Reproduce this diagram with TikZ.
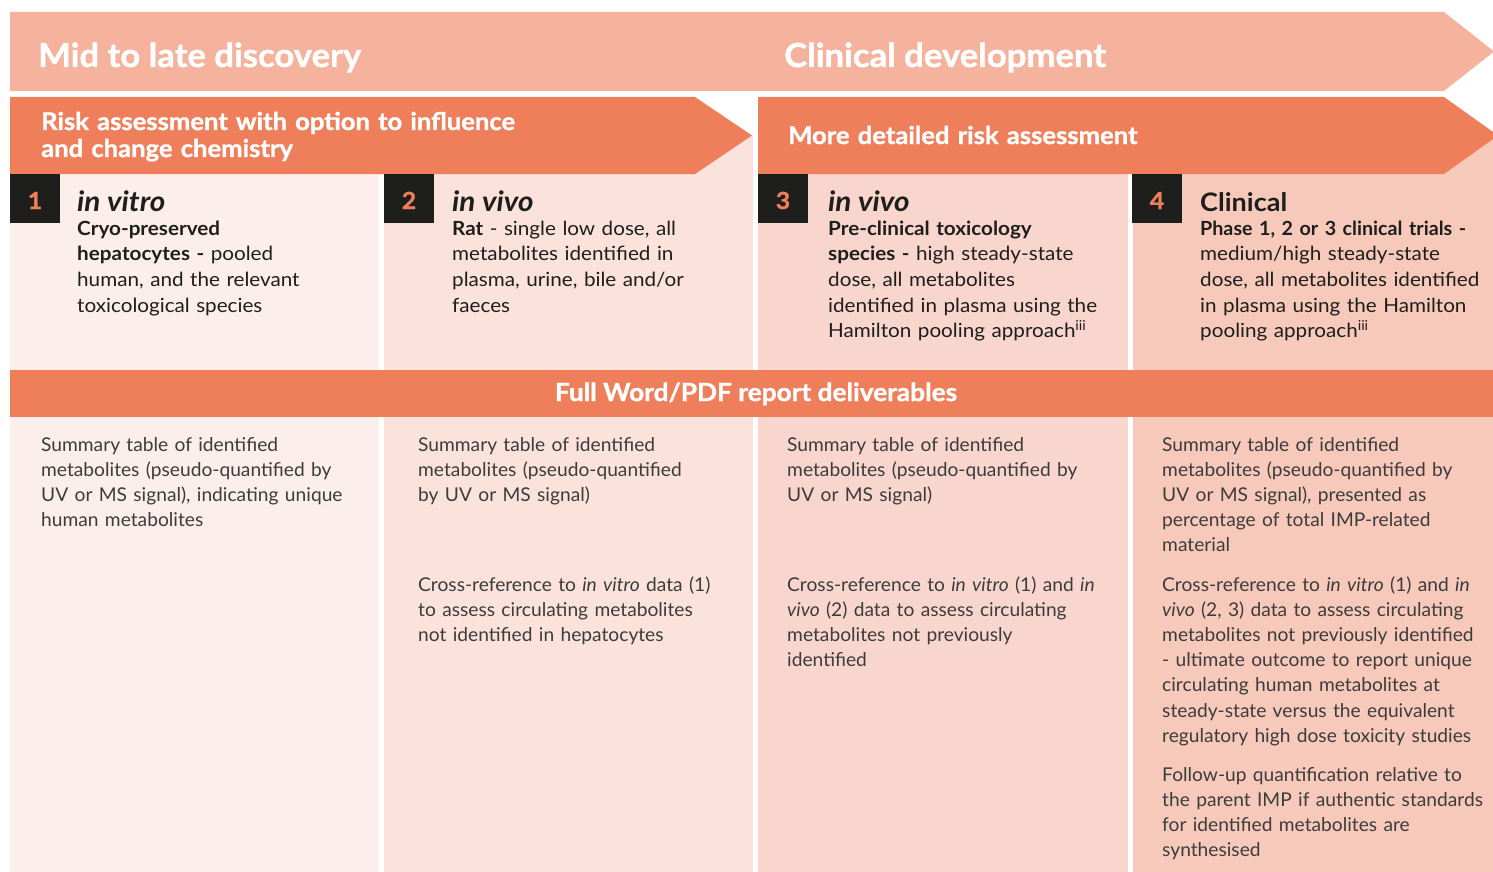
\documentclass[tikz,border=0pt]{standalone}
\usepackage{fontspec}
\setmainfont{Lato}
% heavy headings, slightly widened text faces
\newfontfamily\headfont{Lato}[FakeStretch=1.05, BoldFeatures={FakeBold=1.2}]
\newfontfamily\topfont{Lato}[FakeStretch=1.06]
\newfontfamily\lowfont{Lato}[FakeStretch=1.01]
\definecolor{banner}{HTML}{F5B29C}
\definecolor{accent}{HTML}{EF7F5A}
\definecolor{colA}{HTML}{FCEFEB}
\definecolor{colB}{HTML}{FBE3DC}
\definecolor{colC}{HTML}{F9D6CD}
\definecolor{colD}{HTML}{F7C9BB}
\definecolor{ink}{HTML}{1E1E1C}
\definecolor{soft}{HTML}{3C3C3C}
\tikzset{
  headtext/.style={anchor=base west, inner sep=0pt, text=white,
    font=\headfont\fontsize{33}{40}\selectfont\bfseries},
  subhead/.style={anchor=base west, inner sep=0pt, text=white, align=left,
    text width=700pt, font=\headfont\fontsize{24.4}{27}\selectfont\bfseries},
  numbox/.style={fill=ink},
  numtext/.style={anchor=base, inner sep=0pt, text=accent,
    font=\headfont\fontsize{23.5}{28}\selectfont\bfseries},
  stagetitle/.style={anchor=base west, inner sep=0pt, text=ink,
    font=\topfont\fontsize{28}{30}\selectfont\bfseries},
  stagebody/.style={anchor=base west, inner sep=0pt, text=ink, align=left,
    text width=380pt, font=\topfont\fontsize{19.5}{25.7}\selectfont},
  delivtext/.style={anchor=base west, inner sep=0pt, text=soft, align=left,
    text width=380pt, font=\lowfont\fontsize{19}{25.2}\selectfont},
}
\begin{document}
\begin{tikzpicture}[x=1pt,y=-1pt]
\useasboundingbox (0,0) rectangle (1493,872);
\clip (0,0) rectangle (1493,872);
\fill[white] (0,0) rectangle (1493,872);

% column backgrounds
\fill[colA] (10,135) rectangle (379,872);
\fill[colB] (384,135) rectangle (753,872);
\fill[colC] (758,135) rectangle (1128,872);
\fill[colD] (1133,135) rectangle (1493,872);

% phase banner
\fill[banner] (10,12) -- (1444,12) -- (1494,51.5) -- (1444,91) -- (10,91) -- cycle;
\node[headtext] (disc) at (38,67) {Mid to late discovery};
\node[headtext] (clin) at (784,67) {Clinical development};

% assessment arrows
\fill[accent] (10,97) -- (695,97) -- (752,135.5) -- (695,174) -- (10,174) -- cycle;
\fill[accent] (758,97) -- (1444,97) -- (1498,135.5) -- (1444,174) -- (758,174) -- cycle;
\node[subhead] (riskA) at (41,130) {Risk assessment with option to influence\\and change chemistry};
\node[subhead] (riskB) at (788,144) {More detailed risk assessment};

% deliverables bar
\fill[accent] (10,370) rectangle (1493,417);
\node[anchor=base, inner sep=0pt, text=white, font=\headfont\fontsize{25}{27}\selectfont\bfseries]
  (deliv) at (756,401) {Full Word/PDF report deliverables};

% stage numbers
\fill[numbox] (10,174) rectangle (60,223);
\fill[numbox] (384,174) rectangle (434,223);
\fill[numbox] (758,174) rectangle (808,223);
\fill[numbox] (1132,174) rectangle (1182,223);
\node[numtext] (n1) at (35,209) {1};
\node[numtext] (n2) at (409,209) {2};
\node[numtext] (n3) at (783,209) {3};
\node[numtext] (n4) at (1157,209) {4};

% stage descriptions
\node[stagetitle] (t1) at (77,211) {\itshape in vitro};
\node[stagebody] (b1) at (77,235) {\textbf{Cryo-preserved}\\\textbf{hepatocytes -} pooled\\human, and the relevant\\toxicological species};

\node[stagetitle] (t2) at (452,211) {\itshape in vivo};
\node[stagebody] (b2) at (452,235) {\textbf{Rat} - single low dose, all\\metabolites identified in\\plasma, urine, bile and/or\\faeces};

\node[stagetitle] (t3) at (828,211) {\itshape in vivo};
\node[stagebody] (b3) at (828,235) {\textbf{Pre-clinical toxicology}\\\textbf{species -} high steady-state\\dose, all metabolites\\identified in plasma using the\\Hamilton pooling approach\textsuperscript{iii}};

\node[stagetitle, font=\topfont\fontsize{25.5}{30}\selectfont\bfseries] (t4) at (1200,211) {Clinical};
\node[stagebody] (b4) at (1200,235) {{\lowfont\bfseries Phase 1, 2 or 3 clinical trials -}\\medium/high steady-state\\dose, all metabolites identified\\in plasma using the Hamilton\\pooling approach\textsuperscript{iii}};

% deliverables per stage
\node[delivtext] (d1a) at (41,451) {Summary table of identified\\metabolites (pseudo-quantified by\\UV or MS signal), indicating unique\\human metabolites};

\node[delivtext] (d2a) at (418,451) {Summary table of identified\\metabolites (pseudo-quantified\\by UV or MS signal)};
\node[delivtext] (d2b) at (418,591) {Cross-reference to \textit{in vitro} data (1)\\to assess circulating metabolites\\not identified in hepatocytes};

\node[delivtext] (d3a) at (787,451) {Summary table of identified\\metabolites (pseudo-quantified by\\UV or MS signal)};
\node[delivtext] (d3b) at (787,591) {Cross-reference to \textit{in vitro} (1) and \textit{in}\\\textit{vivo} (2) data to assess circulating\\metabolites not previously\\identified};

\node[delivtext] (d4a) at (1162,451) {Summary table of identified\\metabolites (pseudo-quantified by\\UV or MS signal), presented as\\percentage of total IMP-related\\material};
\node[delivtext] (d4b) at (1162,591) {Cross-reference to \textit{in vitro} (1) and \textit{in}\\\textit{vivo} (2, 3) data to assess circulating\\metabolites not previously identified\\- ultimate outcome to report unique\\circulating human metabolites at\\steady-state versus the equivalent\\regulatory high dose toxicity studies};
\node[delivtext] (d4c) at (1162,781) {Follow-up quantification relative to\\the parent IMP if authentic standards\\for identified metabolites are\\synthesised};
\end{tikzpicture}
\end{document}
